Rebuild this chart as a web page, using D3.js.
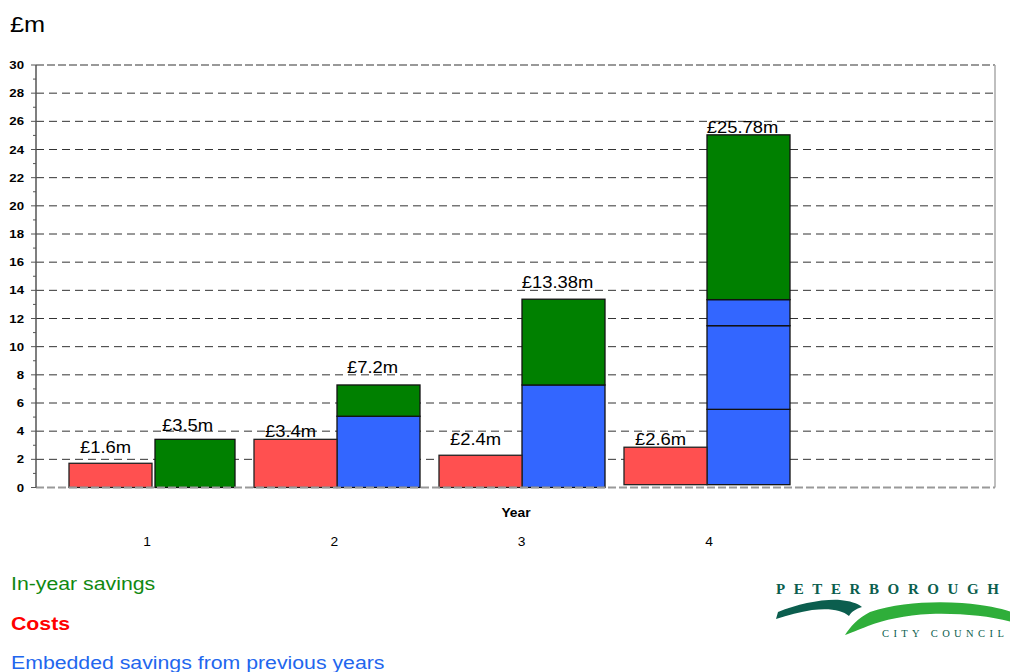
<!DOCTYPE html>
<html>
<head>
<meta charset="utf-8">
<script src="https://cdn.jsdelivr.net/npm/d3@7"></script>
<style>
  body { margin: 0; background: #fff; }
  svg { display: block; font-family: Arial, "Liberation Sans", sans-serif; }
</style>
</head>
<body>
<div id="chart"></div>
<script>
// values, £m
const years = ["1", "2", "3", "4"];
const costs = [1.72, 3.42, 2.29, 2.66];
const embedded1 = [0, 5.06, 7.28, 5.35];
const embedded2 = [0, 0, 0, 5.94];
const embedded3 = [0, 0, 0, 1.85];
const inYear = [3.42, 2.22, 6.09, 11.7];
const base = [0, 0, 0, 0.2];
const costLabels = ["£1.6m", "£3.4m", "£2.4m", "£2.6m"];
const savingLabels = ["£3.5m", "£7.2m", "£13.38m", "£25.78m"];
const yTicks = d3.range(0, 31, 2);

const width = 1010, height = 672;
const plot = { left: 36, right: 995, top: 65, bottom: 487.5 };
const stretch = 1.15; // text in the original is drawn a bit wide

const svg = d3.select("#chart").append("svg")
  .attr("width", width).attr("height", height);

const y = d3.scaleLinear().domain([0, 30]).range([plot.bottom, plot.top]);
const x = d3.scaleBand().domain(years).range([60, 800]);
const xSub = d3.scaleBand().domain(["cost", "saving"]).range([9, 175]);
// category labels sit on their own spacing in the original
const xLab = d3.scalePoint().domain(years).range([147, 709]);

// wide text helper
function wideText(g, px, py, str, anchor) {
  return g.append("text")
    .attr("transform", `translate(${px},${py}) scale(${stretch},1)`)
    .attr("text-anchor", anchor || "start")
    .text(str);
}

// grid lines
svg.append("g").selectAll("line")
  .data(yTicks.filter(t => t > 0 && t < 30))
  .enter().append("line")
  .attr("x1", plot.left).attr("x2", plot.right)
  .attr("y1", d => y(d)).attr("y2", d => y(d))
  .attr("stroke", "#333").attr("stroke-width", 1)
  .attr("stroke-dasharray", "8,5");

// frame: top and bottom dashed grey, right solid grey
svg.append("line").attr("x1", plot.left).attr("x2", plot.right)
  .attr("y1", y(30)).attr("y2", y(30))
  .attr("stroke", "#999").attr("stroke-width", 2).attr("stroke-dasharray", "8,3");
svg.append("line").attr("x1", plot.right).attr("x2", plot.right)
  .attr("y1", y(30)).attr("y2", y(0))
  .attr("stroke", "#aaa").attr("stroke-width", 1.5);

// stacked savings bars
const rows = years.map((yr, i) => ({
  year: yr, e1: embedded1[i], e2: embedded2[i], e3: embedded3[i], iy: inYear[i], b: base[i]
}));
const stack = d3.stack().keys(["e1", "e2", "e3", "iy"]);
const series = stack(rows);
const fills = { e1: "#3366FF", e2: "#3366FF", e3: "#3366FF", iy: "#008000" };

series.forEach(s => {
  svg.append("g").selectAll("rect")
    .data(s.filter(d => d[1] - d[0] > 0))
    .enter().append("rect")
    .attr("x", d => x(d.data.year) + xSub("saving") + (d.data.year === "1" ? 3 : 0))
    .attr("width", d => xSub.bandwidth() - (d.data.year === "1" ? 3 : 0))
    .attr("y", d => y(d[1] + d.data.b))
    .attr("height", d => y(d[0] + d.data.b) - y(d[1] + d.data.b))
    .attr("fill", fills[s.key])
    .attr("stroke", "#111").attr("stroke-width", 1.3);
});

// cost bars
svg.append("g").selectAll("rect")
  .data(rows)
  .enter().append("rect")
  .attr("x", d => x(d.year) + xSub("cost"))
  .attr("width", xSub.bandwidth())
  .attr("y", (d, i) => y(costs[i] + d.b))
  .attr("height", (d, i) => y(d.b) - y(costs[i] + d.b))
  .attr("fill", "#FF5050")
  .attr("stroke", "#222").attr("stroke-width", 1.3);

// value labels (gap in px above bar top, as placed in the original)
const costGap = [10.5, 2.5, 10.5, 2.5];
const saveGap = [8.5, 11.5, 11, 2];
const labels = svg.append("g").attr("font-size", 16).attr("fill", "#000");
years.forEach((yr, i) => {
  const cx = x(yr) + xSub("cost") + xSub.bandwidth() / 2 - 5;
  wideText(labels, cx, y(costs[i] + base[i]) - costGap[i], costLabels[i], "middle");
  const total = embedded1[i] + embedded2[i] + embedded3[i] + inYear[i] + base[i];
  const sx = x(yr) + xSub("saving") + xSub.bandwidth() / 2 - 6;
  wideText(labels, sx, y(total) - saveGap[i], savingLabels[i], "middle");
});

// bottom dashed baseline
svg.append("line").attr("x1", plot.left).attr("x2", plot.right)
  .attr("y1", y(0)).attr("y2", y(0))
  .attr("stroke", "#999").attr("stroke-width", 2).attr("stroke-dasharray", "8,3");

// y axis
const yAxis = svg.append("g").attr("transform", `translate(${plot.left},0)`);
yAxis.append("line").attr("y1", y(30)).attr("y2", y(0))
  .attr("stroke", "#555").attr("stroke-width", 1.5);
yAxis.selectAll(".minor").data(d3.range(0, 31, 1))
  .enter().append("line")
  .attr("x1", d => d % 2 === 0 ? -5 : -3).attr("x2", 0)
  .attr("y1", d => y(d)).attr("y2", d => y(d))
  .attr("stroke", "#555").attr("stroke-width", 1);
const tickLabels = yAxis.append("g").attr("font-size", 11.5).attr("font-weight", "bold");
yTicks.forEach(t => wideText(tickLabels, -12, y(t) + 4, String(t), "end"));

// x labels
const xLabels = svg.append("g").attr("font-size", 12);
years.forEach(yr => wideText(xLabels, xLab(yr), 546, yr, "middle"));
wideText(svg.append("g").attr("font-size", 12).attr("font-weight", "bold"), 516, 517, "Year", "middle");

// unit
wideText(svg.append("g").attr("font-size", 22), 10, 32, "£m");

// key text
const key = svg.append("g").attr("font-size", 18.5);
wideText(key, 11, 590, "In-year savings").attr("fill", "#118811");
wideText(key, 11, 630, "Costs").attr("fill", "#FF0000").attr("font-weight", "bold");
wideText(key, 11, 669, "Embedded savings from previous years").attr("fill", "#2266EE");

// council logo
const logo = svg.append("g");
logo.append("text").attr("x", 776).attr("y", 594)
  .attr("font-family", "'Liberation Serif', 'DejaVu Serif', serif")
  .attr("font-weight", "bold").attr("font-size", 15).attr("letter-spacing", 8.6)
  .attr("fill", "#0b5e4e").text("PETERBOROUGH");
logo.append("path")
  .attr("d", "M776,619 L778,612 C798,604 822,599 840,600 C850,601 857,603 862,607 C856,609 852,611 849,616 C842,610 830,608 812,610 C800,612 788,615 776,619 Z")
  .attr("fill", "#0b5e4e");
logo.append("path")
  .attr("d", "M845,635 C850,627 858,618 870,612 C898,603 930,601 962,603 C988,605 1002,609 1012,612 L1012,622 C990,616 960,613 930,614 C905,615 884,620 868,626 C858,630 851,633 845,635 Z")
  .attr("fill", "#2fae3a");
logo.append("text").attr("x", 882).attr("y", 637)
  .attr("font-family", "'Liberation Serif', 'DejaVu Serif', serif")
  .attr("font-size", 10.5).attr("letter-spacing", 4.4)
  .attr("fill", "#0b5e4e").text("CITY COUNCIL");
</script>
</body>
</html>
